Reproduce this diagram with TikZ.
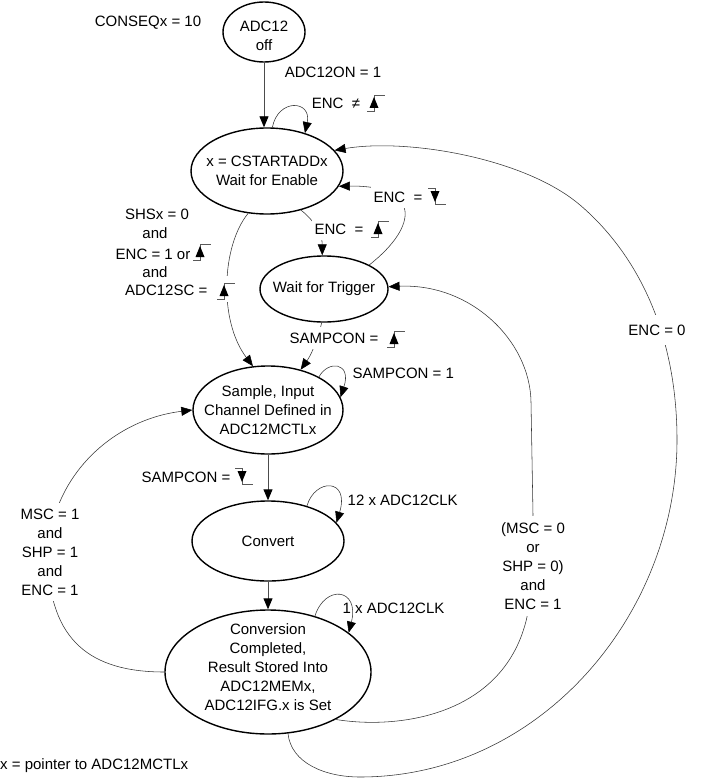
\documentclass[tikz,border=0pt]{standalone}
\usepackage{fontspec}
\setmainfont{Liberation Sans}
\usetikzlibrary{shapes.geometric,arrows.meta}
\begin{document}
\begin{tikzpicture}[x=1pt,y=-1pt,
  every node/.style={font=\fontsize{15}{19}\selectfont, inner sep=1.5pt},
  state/.style={ellipse, draw=black, line width=1.4pt, inner xsep=-12pt, inner ysep=-3pt, align=center},
  conn/.style={draw=black!80, line width=0.55pt, -{Triangle[length=11pt,width=9pt,color=black]}},
  vconn/.style={draw=black!70, line width=0.9pt, -{Triangle[length=11pt,width=9pt,color=black]}},
  lbl/.style={fill=white, align=center, inner xsep=3pt, inner ysep=6pt},
  risesym/.pic={
    \draw[black!65, line width=0.5pt] (-7,8) -- (0,8) -- (0,-8) -- (11,-8);
    \fill[black] (-4.5,5) -- (4.5,5) -- (0,-6) -- cycle;
  },
  fallsym/.pic={
    \draw[black!65, line width=0.5pt] (-7,-8) -- (0,-8) -- (0,8) -- (11,8);
    \fill[black] (-4.5,-5) -- (4.5,-5) -- (0,6) -- cycle;
  }
]
\useasboundingbox (0,0) rectangle (703,778);

% states
\node[state, minimum width=82pt, minimum height=60pt] (off) at (264,32) {\rule{0pt}{19pt}ADC12\\off};
\node[state, minimum width=152pt, minimum height=86pt] (enable) at (267,171) {x = CSTARTADDx\\Wait for Enable};
\node[state, minimum width=128pt, minimum height=66pt] (trigger) at (324,289) {Wait for Trigger};
\node[state, minimum width=150pt, minimum height=88pt] (sample) at (268,410) {Sample, Input\\Channel Defined in\\ADC12MCTLx};
\node[state, minimum width=152pt, minimum height=80pt] (convert) at (268,541) {Convert};
\node[state, inner ysep=-6pt, minimum width=206pt, minimum height=124pt] (conversion) at (268,672)
  {Conversion\\Completed,\\Result Stored Into\\ADC12MEMx,\\ADC12IFG.x is Set\rule[-10pt]{0pt}{10pt}};

% connectors
\draw[vconn] (off.south) -- (off.south |- enable.north);
\draw[conn] (enable.83) .. controls (278,98) and (312,100) .. (enable.45);
\draw[conn] (enable.-49) .. controls +(15,12) and +(0,-20) .. (trigger.93);
\draw[conn] (trigger.28) .. controls (420,225) and (420,185) .. (enable.-12);
\draw[conn] (enable.-114) .. controls (222,245) and (218,320) .. (sample.109);
\draw[conn] (trigger.-94) .. controls +(-4,18) and +(10,-14) .. (sample.51);
\draw[conn] (sample.33) .. controls (328,360) and (352,362) .. (sample.10);
\draw[vconn] (sample.south) -- (sample.south |- convert.north);
\draw[conn] (convert.42) .. controls (315,478) and (350,478) .. (convert.15);
\draw[vconn] (convert.south) -- (convert.south |- conversion.north);
\draw[conn] (conversion.50) .. controls (325,584) and (360,588) .. (conversion.26);
\draw[conn] (conversion.180) .. controls (90,672) and (50,640) .. (48,560)
   .. controls (48,480) and (110,420) .. (sample.180);
\draw[conn] (conversion.-35) .. controls (400,730) and (505,715) .. (527,617)
   -- (533,515) -- (531,402) .. controls (530,340) and (470,283) .. (trigger.2);
\draw[conn] (conversion.-72) .. controls (291,763) and (325,777) .. (360,777)
   .. controls (540,777) and (677,615) .. (677,440)
   .. controls (677,330) and (635,252) .. (580,205)
   .. controls (525,158) and (407,138) .. (enable.17);

% labels
\node (conseq) at (148,23) {CONSEQx = 10};
\node (on) at (333,72) {ADC12ON = 1};
\node (encne) at (336,103) {ENC\ \ ≠};
\pic at (374,103) {risesym};
\node[lbl] (encr) at (339,229) {ENC\ \ =};
\pic at (378,229) {risesym};
\node[lbl] (encf) at (398,197) {ENC\ \ =};
\pic at (435,196) {fallsym};

\node (shsA) at (157,214) {SHSx = 0};
\node (shsB) at (155,233) {and};
\node[anchor=east] (shsC) at (192,254) {ENC = 1 or};
\pic at (200,252) {risesym};
\node (shsD) at (155,272) {and};
\node[anchor=east] (shsE) at (209,290) {ADC12SC =};
\fill[white] (214,276) rectangle (237,302);
\pic at (224,291) {risesym};

\node[lbl] (samprise) at (334,338) {SAMPCON =};
\pic at (394,339) {risesym};
\node[anchor=west] (samp1) at (351,373) {SAMPCON = 1};
\node[anchor=east] (sampfall) at (232,477) {SAMPCON =};
\pic at (242,476) {fallsym};
\node[anchor=west] (clk12) at (346,500) {12 x ADC12CLK};
\node[anchor=west] (clk1) at (341,608) {1 x ADC12CLK};

\node[lbl] (msc1) at (50,552) {MSC = 1\\and\\SHP = 1\\and\\ENC = 1};
\node[lbl] (msc0) at (533,566) {(MSC = 0\\or\\SHP = 0)\\and\\ENC = 1};
\node[lbl, inner ysep=10pt] (enc0) at (657,330) {ENC = 0};
\node[anchor=west, inner sep=0pt] (note) at (0,766) {x = pointer to ADC12MCTLx};
\end{tikzpicture}
\end{document}
